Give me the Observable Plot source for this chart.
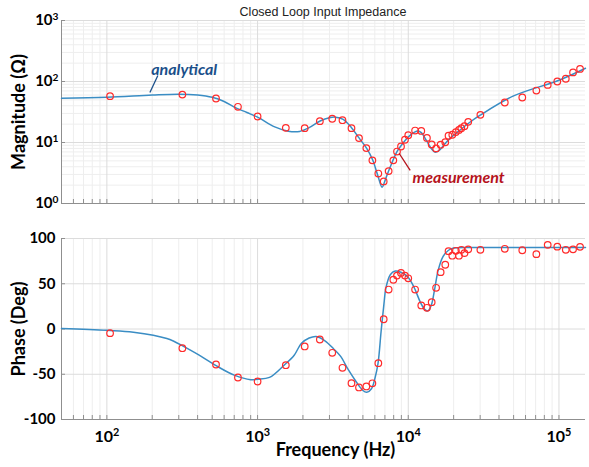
<!DOCTYPE html>
<html>
<head>
<meta charset="utf-8">
<script src="https://cdn.jsdelivr.net/npm/d3@7"></script>
<script src="https://cdn.jsdelivr.net/npm/@observablehq/plot@0.6"></script>
<style>
  html, body { margin: 0; padding: 0; background: #fff; }
  #chart { position: relative; width: 589px; height: 467px; overflow: hidden; }
  #chart svg { position: absolute; left: 0; display: block; }
  #title { position: absolute; left: 61px; width: 524px; top: 5px; text-align: center;
           font: 12.5px "Liberation Sans", Arial, sans-serif; color: #222; }
</style>
</head>
<body>
<div id="chart"><div id="title">Closed Loop Input Impedance</div></div>
<script>
// ---------- data ----------
const measFreq = [105,317,530,741,1000,1540,
  2055,2590,3130,3660,4200,4710,5270,5780,6330,6870,
  7410,7960,8420,8950,9510,10000,11100,12200,13300,14300,
  15300,16400,17600,18500,19600,20700,21700,22500,23600,25000,
  30100,43700,57100,70800,84200,97500,111000,124000,138000];
const measMag = [57.5,61,52.6,38.5,26.7,17.4,
  17.2,22.4,24.5,23.2,17.2,11.8,8.1,5.1,3.1,2.3,
  3.4,5.1,7.1,8.6,11.1,13.2,15.7,15.5,11.9,9.3,
  8.0,9.2,10.1,12.9,13.4,14.8,16.1,17.2,18.5,21.8,
  28.4,45.3,54.7,71,88,100,111,141,161];
const measPhase = [-4.6,-21.2,-39.2,-53.6,-58,-40,
  -19.3,-11.6,-26.3,-42.9,-59.9,-64.6,-63.5,-60,-37.8,10.8,
  43.6,54.4,59,62,59,56,43.6,26,23.4,29.6,
  45.5,62.8,71,86,81,86.4,81,87.5,83.8,88,
  87.5,88.6,87,82.7,93,91,87.5,88,90.8];

const anaMagFreq = [50,100,200,300,400,500,600,700,850,1000,1300,1600,1900,2200,2600,3000,3300,3700,4200,4700,5300,5800,6300,6700,7100,7600,8400,9000,10000,11000,11600,12200,13200,14200,15100,16000,17000,18000,19000,21000,25000,30000,50000,100000,150000];
const anaMag = [53,55,60,62,60,55,47,38,31,26,18,15.3,15.2,17.5,22.5,25.5,26,24,17.5,12,8,5.2,2.8,1.85,2.6,4,7,9,12.3,14.8,15.5,14.5,10.8,8,6.9,7.4,8.7,10.3,11.8,14.5,20.5,28,58,105,165];

const anaPhFreq = [50,100,150,250,330,420,550,700,900,1000,1200,1500,1750,1950,2200,2450,2800,3200,3550,4000,4500,5000,5300,5700,6000,6300,6600,6900,7100,7600,8200,8850,10000,11000,12000,12800,13500,14200,15000,15800,17000,18500,20000,30000,150000];
const anaPhase = [0.5,-1.5,-3.5,-10.5,-20,-30,-42,-51,-56,-55.5,-53.5,-40,-29,-16,-10,-8.3,-13,-22,-30,-45,-58,-68,-70,-66,-55,-38,-3,28,45,60,64,63,57,45,30,22,20,26,45,65,80,87,89.5,90,90];

const xDecades = [100, 1000, 10000, 100000];
const magDecades = [1, 10, 100, 1000];
const phaseTicks = [-100, -50, 0, 50, 100];

const annText = ["analytical", "measurement"];
const annFreq = [326, 21600];
const annMag = [157, 2.62];
const leaderFrom = [[218, 125], [8710, 6.6]];
const leaderTo = [[193, 66], [10300, 3.48]];

// ---------- helpers ----------
const xDomain = [50, 150000];
const xMinor = [];
for (let d = 10; d <= 100000; d *= 10) for (let m = 2; m <= 9; m++) {
  const v = d * m; if (v >= xDomain[0] && v <= xDomain[1]) xMinor.push(v);
}
const xAllTicks = xMinor.concat(xDecades);
const yMinor = [];
for (let d = 1; d < 1000; d *= 10) for (let m = 2; m <= 9; m++) yMinor.push(d * m);

const magAna = anaMagFreq.map((f, i) => ({f, v: anaMag[i]}));
const magMeas = measFreq.map((f, i) => ({f, v: measMag[i]}));
const phAna = anaPhFreq.map((f, i) => ({f, v: anaPhase[i]}));
const phMeas = measFreq.map((f, i) => ({f, v: measPhase[i]}));
const ann = annText.map((t, i) => ({t, k: i, f: annFreq[i], v: annMag[i], f1: leaderFrom[i][0], v1: leaderFrom[i][1], f2: leaderTo[i][0], v2: leaderTo[i][1]}));

const supFmt = d => "10^" + Math.round(Math.log10(d));
const W = 589, ML = 61, MR = 4;
const plotW = W - ML - MR;
const gridMinor = "#eeeeee", gridMajor = "#dcdcdc", axisCol = "#8f8f8f";
const lineCol = "#3a8dc4", dotCol = "#ff2a2a";
const annCols = ["#1a4f8a", "#b5121b"];
const font = "Lato, 'Open Sans', sans-serif";

// ---------- top: magnitude ----------
const topH = 215, topMT = 20, topMB = 12;
const magPlot = Plot.plot({
  width: W, height: topH, marginLeft: ML, marginRight: MR, marginTop: topMT, marginBottom: topMB,
  style: {fontFamily: font, background: "transparent", overflow: "visible"},
  x: {type: "log", domain: xDomain, axis: null},
  y: {type: "log", domain: [1, 1000]},
  marks: [
    Plot.ruleX(xMinor, {x: d => d, stroke: gridMinor}),
    Plot.ruleY(yMinor, {y: d => d, stroke: gridMinor}),
    Plot.ruleX(xDecades, {x: d => d, stroke: gridMajor}),
    Plot.ruleY(magDecades, {y: d => d, stroke: gridMajor}),
    Plot.tickX(xAllTicks, {x: d => d, insetTop: topH - topMT - topMB - 4, stroke: axisCol}),
    Plot.tickY(magDecades, {y: d => d, insetRight: plotW - 4, stroke: axisCol}),
    Plot.ruleX([xDomain[0]], {x: d => d, stroke: axisCol}),
    Plot.ruleY([1], {y: d => d, stroke: axisCol}),
    Plot.axisY(magDecades, {tickSize: 0, tickPadding: 3, tickFormat: supFmt, fontSize: 15, fontWeight: "bold", label: null}),
    Plot.line(magAna, {x: "f", y: "v", stroke: lineCol, strokeWidth: 1.5, curve: "catmull-rom"}),
    Plot.dot(magMeas, {x: "f", y: "v", r: 3.3, stroke: dotCol, strokeWidth: 1.2}),
    Plot.link(ann, {x1: "f1", y1: "v1", x2: "f2", y2: "v2", stroke: d => annCols[d.k], strokeWidth: 1.3}),
    Plot.text(ann, {x: "f", y: "v", text: "t", fill: d => annCols[d.k], fontSize: 16, fontWeight: "bold", fontStyle: "italic"}),
    Plot.text(["Magnitude (\u03A9)"], {text: d => d, frameAnchor: "left", textAnchor: "middle", dx: -42, rotate: -90, fontSize: 18, fontWeight: "bold"})
  ]
});

// ---------- bottom: phase ----------
const botH = 252, botMT = 23, botMB = 48;
const phasePlot = Plot.plot({
  width: W, height: botH, marginLeft: ML, marginRight: MR, marginTop: botMT, marginBottom: botMB,
  style: {fontFamily: font, background: "transparent", overflow: "visible"},
  x: {type: "log", domain: xDomain},
  y: {domain: [-100, 100]},
  marks: [
    Plot.ruleX(xMinor, {x: d => d, stroke: gridMinor}),
    Plot.ruleX(xDecades, {x: d => d, stroke: gridMajor}),
    Plot.ruleY(phaseTicks, {y: d => d, stroke: gridMajor}),
    Plot.tickX(xAllTicks, {x: d => d, insetTop: botH - botMT - botMB - 4, stroke: axisCol}),
    Plot.tickY(phaseTicks, {y: d => d, insetRight: plotW - 4, stroke: axisCol}),
    Plot.ruleX([xDomain[0]], {x: d => d, stroke: axisCol}),
    Plot.ruleY([-100], {y: d => d, stroke: axisCol}),
    Plot.axisX(xDecades, {tickSize: 0, tickPadding: 11, tickFormat: supFmt, fontSize: 16, fontWeight: "bold", label: null}),
    Plot.axisY(phaseTicks, {tickSize: 0, tickPadding: 6, tickFormat: d => String(d), fontSize: 15, fontWeight: "bold", label: null}),
    Plot.line(phAna, {x: "f", y: "v", stroke: lineCol, strokeWidth: 1.5, curve: "catmull-rom"}),
    Plot.dot(phMeas, {x: "f", y: "v", r: 3.3, stroke: dotCol, strokeWidth: 1.2}),
    Plot.text(["Phase (Deg)"], {text: d => d, frameAnchor: "left", textAnchor: "middle", dx: -42, rotate: -90, fontSize: 18, fontWeight: "bold"}),
    Plot.text(["Frequency (Hz)"], {text: d => d, frameAnchor: "bottom", textAnchor: "middle", dx: 12, dy: 36, fontSize: 18, fontWeight: "bold"})
  ]
});

// superscript tick labels
const NS = "http://www.w3.org/2000/svg";
function supers(svg) {
  svg.querySelectorAll("text").forEach(t => {
    const m = /^10\^(-?\d+)$/.exec(t.textContent.trim());
    if (!m) return;
    while (t.firstChild) t.removeChild(t.firstChild);
    const a = document.createElementNS(NS, "tspan"); a.textContent = "10";
    const b = document.createElementNS(NS, "tspan"); b.textContent = m[1];
    b.setAttribute("dy", "-0.5em"); b.setAttribute("font-size", "0.68em");
    t.appendChild(a); t.appendChild(b);
  });
}
supers(magPlot); supers(phasePlot);

magPlot.style.top = "0px";
phasePlot.style.top = topH + "px";
const chart = document.getElementById("chart");
chart.insertBefore(magPlot, chart.firstChild);
chart.insertBefore(phasePlot, magPlot.nextSibling);
</script>
</body>
</html>
